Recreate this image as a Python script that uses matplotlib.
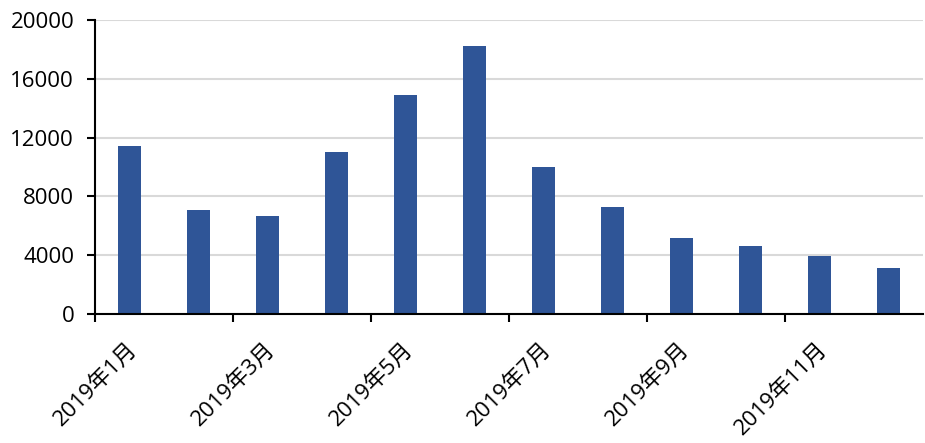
import numpy as np
import matplotlib
matplotlib.use('Agg')
import matplotlib.pyplot as plt

plt.rcParams['font.family'] = ['Open Sans', 'Noto Sans CJK SC', 'DejaVu Sans']

MONTHS = [f'2019年{m}月' for m in range(1, 13)]
VALUES = [11400, 7100, 6700, 11000, 14900, 18200, 10000, 7300, 5200, 4600, 3950, 3100]
Y_TICKS = [0, 4000, 8000, 12000, 16000, 20000]

BAR_COLOR = '#2F5597'


def main():
    fig = plt.figure(figsize=(9.25, 4.43), dpi=100)
    ax = fig.add_axes([0.1027, 0.291, 0.895, 0.664])

    x = np.arange(len(MONTHS))
    ax.bar(x, VALUES, width=0.33, color=BAR_COLOR, zorder=3)

    ax.set_xlim(-0.5, len(MONTHS) - 0.5)
    ax.set_ylim(0, 20000)
    ax.set_yticks(Y_TICKS)
    ax.set_yticklabels([str(v) for v in Y_TICKS], fontsize=16)
    ax.grid(axis='y', color='#D9D9D9', linewidth=1.5, zorder=0)

    # ticks on category boundaries, labels on category centres
    ax.set_xticks(np.arange(-0.5, len(MONTHS) - 0.5, 2))
    ax.set_xticklabels([])
    for i in range(0, len(MONTHS), 2):
        ax.text(i + 0.07, -0.11, MONTHS[i], transform=ax.get_xaxis_transform(),
                rotation=45, rotation_mode='anchor', ha='right', va='center',
                fontsize=16)

    ax.tick_params(axis='both', direction='out', length=6, width=1.5, color='black')
    ax.tick_params(axis='y', pad=9)
    for side in ['top', 'right']:
        ax.spines[side].set_visible(False)
    for side in ['left', 'bottom']:
        ax.spines[side].set_linewidth(1.5)
        ax.spines[side].set_color('black')
        ax.spines[side].set_zorder(4)

    fig.savefig('out.png', dpi=100)
    plt.close(fig)


if __name__ == '__main__':
    main()
